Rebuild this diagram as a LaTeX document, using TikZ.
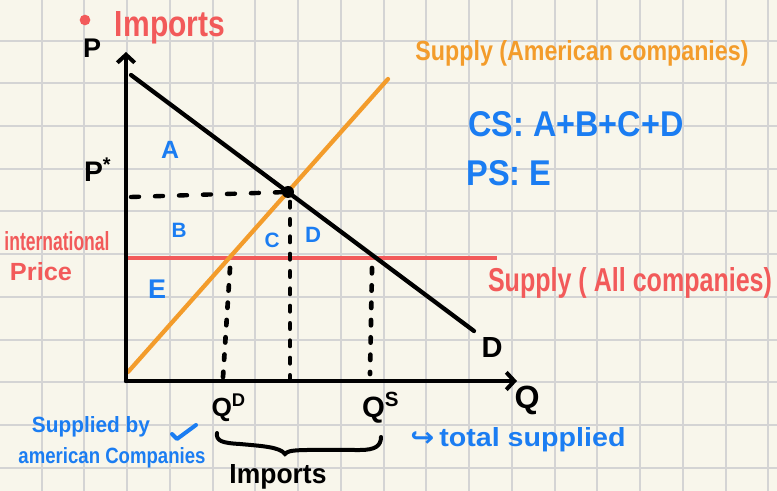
\documentclass[tikz,border=0pt]{standalone}
\usepackage{fontspec}
\setmainfont{Liberation Sans}
\newfontfamily\dejavu{DejaVu Sans}
\usetikzlibrary{arrows.meta}
\definecolor{bgc}{HTML}{F8F6EB}
\definecolor{gridc}{HTML}{D4D4D4}
\definecolor{redc}{HTML}{F25A5A}
\definecolor{orac}{HTML}{F39C2B}
\definecolor{bluec}{HTML}{1B7DF2}
\newcommand{\fitw}[2]{\resizebox{\dimexpr #1pt*3/4\relax}{!}{#2}}
\newcommand{\fitwh}[3]{\resizebox{\dimexpr #1pt*3/4\relax}{\dimexpr #2pt*3/4\relax}{#3}}
\tikzset{
  lbl/.style={inner sep=0pt, anchor=center, font=\bfseries},
  axisline/.style={line width=3.2pt, line cap=round, -{Straight Barb[length=6pt,width=13pt,line width=3pt]}},
  curve/.style={line width=3.2pt, line cap=round},
  hdash/.style={line width=3.3pt, line cap=round, dash pattern=on 6pt off 12pt},
  vdash/.style={line width=3.5pt, line cap=round, dash pattern=on 4pt off 9pt},
}
\begin{document}
\begin{tikzpicture}[x=0.75pt,y=-0.75pt]
\useasboundingbox (0,0) rectangle (777,491);
\fill[bgc] (0,0) rectangle (777,491);
% grid
\foreach \k in {1,...,18} \draw[gridc, line width=1.5pt] ({42.74*\k-1},0) -- ({42.74*\k-1},491);
\foreach \k in {1,...,11} \draw[gridc, line width=1.5pt] (0,{42.7*\k-2}) -- (777,{42.7*\k-2});
% coordinates
\coordinate (O) at (126,381);
\coordinate (Ytop) at (126,52);
\coordinate (Xend) at (517,381);
\coordinate (Dstart) at (131,75);
\coordinate (Dend) at (474,331);
\coordinate (Sstart) at (128,372);
\coordinate (Send) at (388,79);
\coordinate (Pl) at (124,258);
\coordinate (Pr) at (497,258);
\coordinate (Phl) at (131,197);
\coordinate (QDt) at (230,268);
\coordinate (QDb) at (223,377);
\coordinate (QMt) at (290,202);
\coordinate (QMb) at (290,378);
\coordinate (QSt) at (372,268);
\coordinate (QSb) at (370,374);
\coordinate (bL) at (217,433);
\coordinate (bR) at (381,437);
% international price line
\draw[redc, line width=3.6pt] (Pl) -- (Pr);
% supply american
\draw[orac, curve] (Sstart) -- (Send);
% demand
\draw[curve] (Dstart) -- (Dend);
% axes
\draw[axisline] (O) -- (Ytop);
\draw[axisline] (O) -- (Xend);
% equilibrium dot
\node[circle, fill=black, inner sep=0pt, minimum size=9pt] (Eq) at (288,192) {};
% dashed lines
\draw[hdash] (Phl) -- (Eq.center);
\draw[vdash] (QDt) -- (QDb);
\draw[vdash] (QMt) -- (QMb);
\draw[vdash] (QSt) -- (QSb);
% labels
\node[circle, fill=redc, inner sep=0pt, minimum size=8pt] (dot) at (85,20) {};
\node[lbl, text=redc] (imtop) at (170,28) {\fitwh{110}{25}{Imports}};
\node[lbl] (P) at (92,48) {\fitw{18}{P}};
\node[lbl] (Pstar) at (98,170) {\fitw{28}{P\textsuperscript{*}}};
\node[lbl, text=bluec] (A) at (170,150) {\fitw{18}{A}};
\node[lbl, text=bluec] (B) at (179,230) {\fitw{15}{B}};
\node[lbl, text=bluec] (C) at (272,240) {\fitw{15}{C}};
\node[lbl, text=bluec] (Dl) at (313,235) {\fitw{16}{D}};
\node[lbl, text=bluec] (E) at (157,289) {\fitw{18}{E}};
\node[lbl, text=redc] (intl) at (57,241) {\fitwh{105}{19}{international}};
\node[lbl, text=redc] (price) at (41,272) {\fitwh{62}{18}{Price}};
\node[lbl, text=orac] (supA) at (582,53) {\fitwh{333}{20}{Supply (American companies)}};
\node[lbl, text=bluec] (cs) at (576,124) {\fitwh{215}{25}{CS: A+B+C+D}};
\node[lbl, text=bluec] (ps) at (509,173) {\fitwh{85}{25}{PS: E}};
\node[lbl, text=redc] (supAll) at (630,283) {\fitwh{284}{24}{Supply ( All companies)}};
\node[lbl] (Dlab) at (492,347) {\fitw{21}{D}};
\node[lbl] (Q) at (527,400) {\fitw{25}{Q}};
\node[lbl] (QD) at (229,408) {\fitw{35}{Q\textsuperscript{D}}};
\node[lbl] (QS) at (381,408) {\fitw{38}{Q\textsuperscript{S}}};
\node[lbl] (imbot) at (278,477) {\fitwh{97}{19}{Imports}};
\node[lbl, text=bluec] (supby) at (91,427) {\fitwh{118}{16}{Supplied by}};
\node[lbl, text=bluec] (amc) at (112,458) {\fitwh{187}{16}{american Companies}};
\node[lbl, text=bluec] (tot) at (518,440) {\fitwh{215}{19}{{\dejavu ↪}\,total supplied}};
% check mark
\draw[bluec, line width=3pt, line cap=round, line join=round] (172,434) -- (177,439) -- (196,425);
% brace
\draw[line width=3pt, line cap=round] (bL) .. controls (216,441) and (222,443) .. (240,444) .. controls (262,446) and (280,447) .. (285,454) .. controls (289,449) and (300,450) .. (360,450) .. controls (375,450) and (381,446) .. (bR);
\end{tikzpicture}
\end{document}
